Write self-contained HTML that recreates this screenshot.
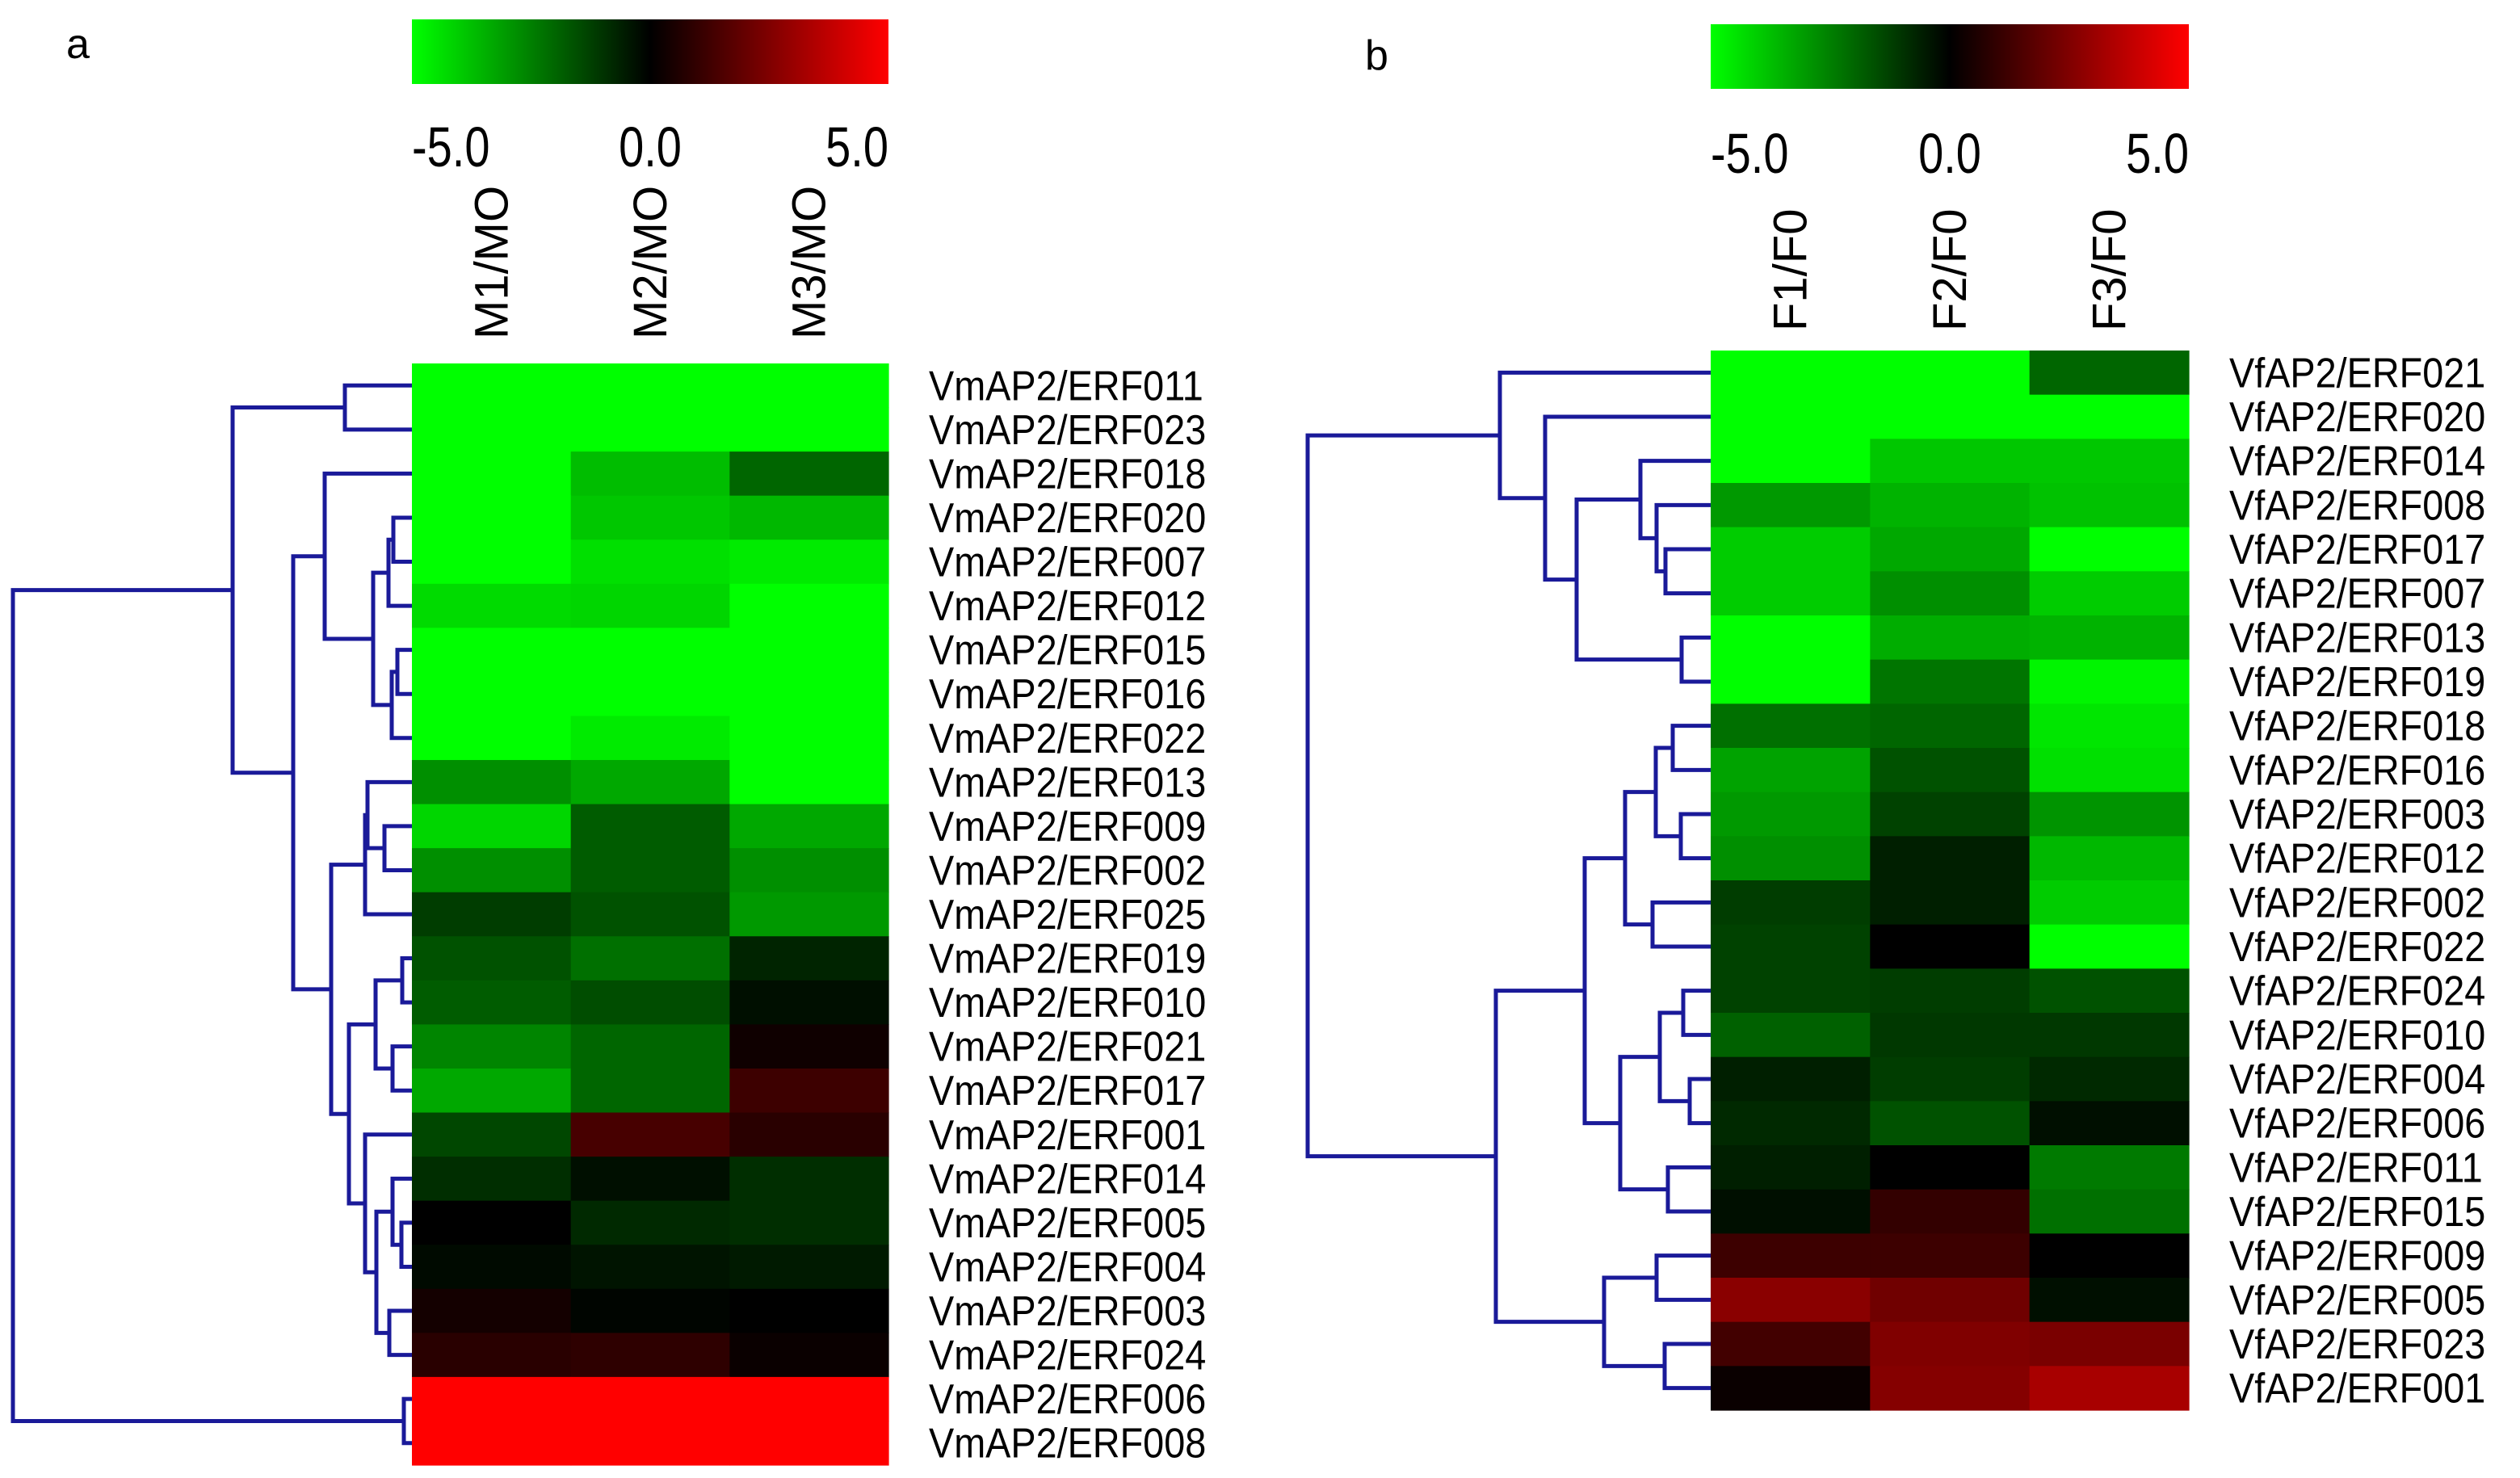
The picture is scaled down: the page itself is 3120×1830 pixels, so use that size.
<!DOCTYPE html>
<html><head><meta charset="utf-8"><style>
html,body{margin:0;padding:0;background:#fff;}
svg{display:block;font-family:"Liberation Sans",sans-serif;}
</style></head><body>
<svg id="fig" width="3120" height="1830" viewBox="0 0 3120 1830" xmlns="http://www.w3.org/2000/svg">
<defs>
<linearGradient id="cbar" x1="0" x2="1" y1="0" y2="0">
<stop offset="0" stop-color="#00ff00"/><stop offset="0.5" stop-color="#000000"/><stop offset="1" stop-color="#ff0000"/>
</linearGradient>
</defs>
<text x="82" y="72" font-size="52">a</text>
<text x="1690" y="86" font-size="52">b</text>
<rect x="510" y="24" width="590" height="80" fill="url(#cbar)"/>
<rect x="2118" y="30" width="592" height="80" fill="url(#cbar)"/>
<g id="ga"></g>
<g id="gb"></g>
</svg>
<script>
const colsA = ["M1/MO","M2/MO","M3/MO"];
const rowsA = ["VmAP2/ERF011","VmAP2/ERF023","VmAP2/ERF018","VmAP2/ERF020","VmAP2/ERF007","VmAP2/ERF012","VmAP2/ERF015","VmAP2/ERF016","VmAP2/ERF022","VmAP2/ERF013","VmAP2/ERF009","VmAP2/ERF002","VmAP2/ERF025","VmAP2/ERF019","VmAP2/ERF010","VmAP2/ERF021","VmAP2/ERF017","VmAP2/ERF001","VmAP2/ERF014","VmAP2/ERF005","VmAP2/ERF004","VmAP2/ERF003","VmAP2/ERF024","VmAP2/ERF006","VmAP2/ERF008"];
const valsA = [[-5,-5,-5],[-5,-5,-5],[-5,-3.7,-2.0],[-5,-3.9,-3.6],[-5,-4.4,-4.6],[-4.3,-4.2,-5],[-5,-5,-5],[-5,-5,-5],[-5,-4.6,-5],[-2.8,-3.3,-5],[-4.2,-1.8,-3.3],[-2.8,-1.8,-2.8],[-1.2,-1.6,-3.0],[-1.6,-2.2,-0.7],[-1.8,-1.5,-0.3],[-2.6,-2.0,0.3],[-3.3,-2.0,1.2],[-1.4,1.4,0.8],[-0.9,-0.3,-0.9],[0,-0.8,-0.9],[-0.2,-0.4,-0.5],[0.4,-0.1,0],[0.8,0.9,0.2],[5,5,5],[5,5,5]];
const treeA = [[[0,1,83],[[2,[[[3,4,23],5,29],[[6,7,18],8,25],48],108],[[[9,[10,11,34],55],12,58],[[[13,14,12],[15,16,24],45],[17,[[18,[19,20,13],24],[21,22,28],44],58],78],100],147],222],[23,24,10],494];

const colsB = ["F1/F0","F2/F0","F3/F0"];
const rowsB = ["VfAP2/ERF021","VfAP2/ERF020","VfAP2/ERF014","VfAP2/ERF008","VfAP2/ERF017","VfAP2/ERF007","VfAP2/ERF013","VfAP2/ERF019","VfAP2/ERF018","VfAP2/ERF016","VfAP2/ERF003","VfAP2/ERF012","VfAP2/ERF002","VfAP2/ERF022","VfAP2/ERF024","VfAP2/ERF010","VfAP2/ERF004","VfAP2/ERF006","VfAP2/ERF011","VfAP2/ERF015","VfAP2/ERF009","VfAP2/ERF005","VfAP2/ERF023","VfAP2/ERF001"];
const valsB = [[-5,-5,-2.0],[-5,-5,-5],[-5,-3.9,-3.9],[-3.0,-3.5,-3.8],[-4.0,-3.3,-5],[-4.0,-2.8,-4.0],[-5,-3.4,-3.5],[-5,-2.3,-4.8],[-2.2,-2.0,-4.5],[-3.2,-1.6,-4.4],[-3.0,-1.3,-2.9],[-2.8,-0.6,-3.6],[-1.2,-0.6,-4.0],[-1.3,0,-5],[-1.3,-1.2,-1.6],[-1.9,-1.1,-1.1],[-0.6,-1.2,-0.8],[-0.8,-1.6,-0.3],[-0.6,0,-2.4],[-0.3,1.0,-2.2],[1.2,1.2,0],[2.7,2.2,-0.3],[1.3,2.5,2.4],[0.2,2.6,3.3]];
const treeB = [[0,[1,[[2,[3,[4,5,56],67],87],[6,7,36],166],205],261],[[[[[8,9,47],[10,11,37],68],[12,13,72],106],[[[14,15,34],[16,17,26],63],[18,19,53],112],156],[[20,21,67],[22,23,57],132],266],499];

const cbTicks = ["-5.0","0.0","5.0"];
const NS = "http://www.w3.org/2000/svg";
function mk(tag, attrs, parent){const e=document.createElementNS(NS,tag);for(const k in attrs)e.setAttribute(k,attrs[k]);parent.appendChild(e);return e;}
function color(v){const t=Math.max(-1,Math.min(1,v/5));return t<0?`rgb(0,${Math.round(-t*255)},0)`:`rgb(${Math.round(t*255)},0,0)`;}

function panel(g, cfg){
  const {cols, rows, vals, tree, x0, y0, w, h, tickY, colLabelBottom, labelX, tag} = cfg;
  const cw = w/cols.length, rh = h/rows.length;
  const cx = j => x0 + cw*j; const ry = i => y0 + rh*i;
  cbTicks.forEach((t,k)=>{
    const anchor = ["start","middle","end"][k];
    const e = mk("text",{x:x0 + (w*k/2), y:tickY, "font-size":70, "text-anchor":anchor, transform:`translate(${(x0+w*k/2)*0.2},0) scale(0.8,1)`},g);
    
    
    e.textContent = t;
  });
  cols.forEach((c,j)=>{
    const x = cx(j)+cw/2+20;
    const e = mk("text",{x:0,y:0,"font-size":58,transform:`translate(${x},${colLabelBottom}) rotate(-90)`},g);
    
    
    e.textContent = c;
  });
  vals.forEach((row,i)=>row.forEach((v,j)=>{
    const r = mk("rect",{x:cx(j),y:ry(i),width:cw+0.6,height:rh+0.6,fill:color(v)},g);
    
    
  }));
  rows.forEach((n,i)=>{
    const e = mk("text",{x:labelX,y:ry(i)+rh/2+18,"font-size":52,transform:`translate(${labelX*0.1},0) scale(0.9,1)`},g);
    
    
    e.textContent = n;
  });
  const dg = mk("g",{stroke:"#1a1a99","stroke-width":5,fill:"none"},g);
  
  
  function draw(node){
    if(typeof node === "number") return {x:x0, y:ry(node)+rh/2};
    const a = draw(node[0]), b = draw(node[1]);
    const x = x0 - node[2];
    const p = mk("path",{d:`M${a.x},${a.y}H${x}V${b.y}H${b.x}`},dg);
    
    
    return {x:x, y:(a.y+b.y)/2};
  }
  draw(tree);
}
panel(document.getElementById("ga"),{cols:colsA,rows:rowsA,vals:valsA,tree:treeA,x0:510,y0:450,w:590,h:1364,tickY:206,colLabelBottom:420,labelX:1150,tag:"a"});
panel(document.getElementById("gb"),{cols:colsB,rows:rowsB,vals:valsB,tree:treeB,x0:2118,y0:434,w:592,h:1312,tickY:214,colLabelBottom:410,labelX:2760,tag:"b"});
</script>
</body></html>
